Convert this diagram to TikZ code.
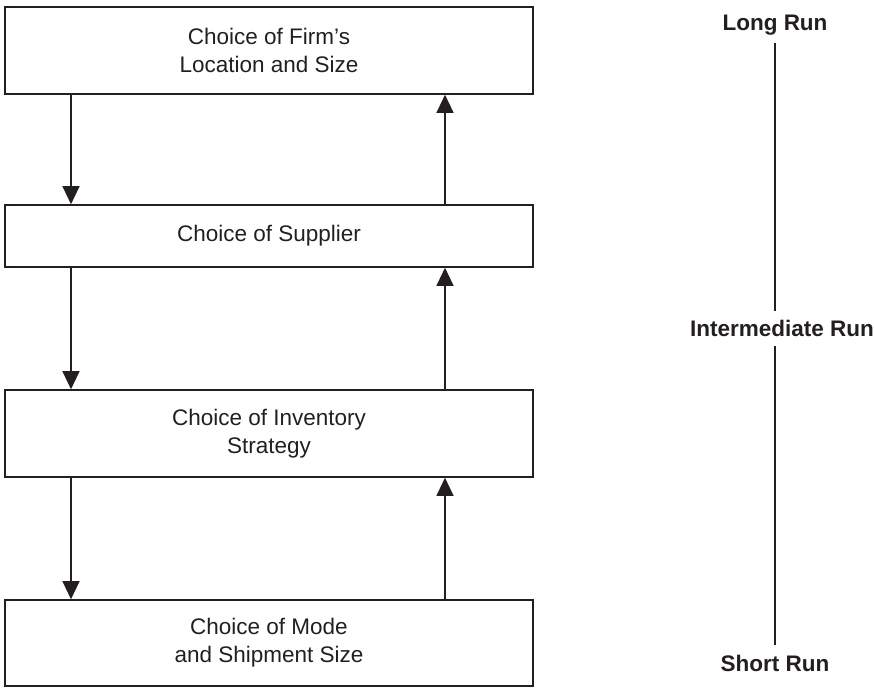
\documentclass[tikz,border=0pt]{standalone}
\usepackage{fontspec}
\setmainfont{Liberation Sans}
\usetikzlibrary{arrows.meta}
\definecolor{ink}{HTML}{231F20}
\begin{document}
\begin{tikzpicture}[x=1pt,y=-1pt,
  box/.style={draw=ink,line width=1.6pt,rectangle,minimum width=528pt,inner sep=0pt,
    align=center,text=ink,font=\fontsize{22.5}{28}\selectfont},
  arr/.style={draw=ink,line width=1.2pt,-{Triangle[length=18pt,width=17pt]}},
  runlab/.style={text=ink,font=\bfseries\fontsize{22.5}{27}\selectfont,inner sep=0pt},
  runline/.style={draw=ink,line width=1.2pt}]
\useasboundingbox (0,0) rectangle (874,687);
\node[box,minimum height=87pt] (b1) at (269,50.5) {Choice of Firm’s\\Location and Size};
\node[box,minimum height=62pt] (b2) at (269,236) {Choice of Supplier};
\node[box,minimum height=87pt] (b3) at (269,433.5) {Choice of Inventory\\Strategy};
\node[box,minimum height=86pt] (b4) at (269,643) {Choice of Mode\\and Shipment Size};
\coordinate (L) at (71,0);
\coordinate (R) at (445,0);
\draw[arr] (b1.south -| L) -- (b2.north -| L);
\draw[arr] (b2.south -| L) -- (b3.north -| L);
\draw[arr] (b3.south -| L) -- (b4.north -| L);
\draw[arr] (b2.north -| R) -- (b1.south -| R);
\draw[arr] (b3.north -| R) -- (b2.south -| R);
\draw[arr] (b4.north -| R) -- (b3.south -| R);
\node[runlab] (lr) at (775,25) {Long Run};
\node[runlab] (ir) at (782,328) {Intermediate Run};
\node[runlab] (sr) at (775,663) {Short Run};
\coordinate (t1) at (775,43);
\coordinate (t2) at (775,311);
\coordinate (t3) at (775,346);
\coordinate (t4) at (775,645);
\draw[runline] (t1) -- (t2);
\draw[runline] (t3) -- (t4);
\end{tikzpicture}
\end{document}
